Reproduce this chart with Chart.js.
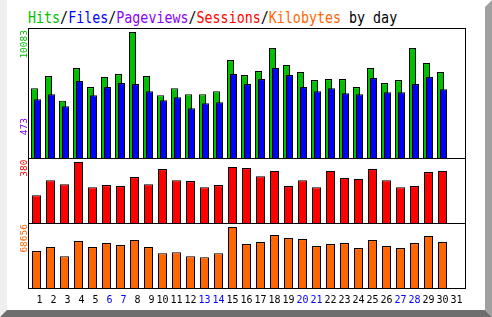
<!DOCTYPE html>
<html>
<head>
<meta charset="UTF-8">
<title>Hits/Files/Pageviews/Sessions/Kilobytes by day</title>
<script src="https://cdn.jsdelivr.net/npm/chart.js@4.4.0/dist/chart.umd.min.js"></script>
<style>
  * { margin: 0; padding: 0; box-sizing: border-box; }
  body { width: 492px; height: 317px; background: #fff; position: relative; overflow: hidden; }

  /* shaded frame round the picture */
  .edge { position: absolute; left: 0; top: 0; width: 492px; height: 317px; }
  .edge.left { background: #efefef; clip-path: polygon(0 0, 7px 0, 7px 310px, 0 317px); }
  .edge.right { background: #a0a0a0; clip-path: polygon(485px 7px, 492px 0, 492px 317px, 485px 310px); }
  .edge.bottom { background: #6e6e6e; clip-path: polygon(7px 310px, 485px 310px, 492px 317px, 0 317px); }

  #chart { position: absolute; left: 0; top: 0; }

  .title {
    position: absolute; left: 28px; top: 11px;
    font: 13.33px/16px 'DejaVu Sans Mono', monospace;
    white-space: pre;
    transform: scaleY(1.15); transform-origin: 0 13px;
  }
  .hits { color: #00c000; }
  .files { color: #0000ff; }
  .pages { color: #8800ff; }
  .sess { color: #ff0000; }
  .kb { color: #ff6600; }
</style>
</head>
<body>
  <div class="edge left"></div>
  <div class="edge right"></div>
  <div class="edge bottom"></div>

  <div class="title"><span class="hits">Hits</span>/<span class="files">Files</span>/<span class="pages">Pageviews</span>/<span class="sess">Sessions</span>/<span class="kb">Kilobytes</span> by day</div>

  <canvas id="chart" width="492" height="317"></canvas>

<script>
  const days = [1, 2, 3, 4, 5, 6, 7, 8, 9, 10, 11, 12, 13, 14, 15, 16,
                17, 18, 19, 20, 21, 22, 23, 24, 25, 26, 27, 28, 29, 30, 31];
  const weekend = [6, 7, 13, 14, 20, 21, 27, 28];

  const hits = [5591, 6554, 4573, 7196, 5672, 6474, 6714, 10083, 6554, 5030,
                5591, 5110, 5110, 5351, 7837, 6634, 6955, 8800, 7436, 6875,
                6233, 6313, 6313, 5672, 7196, 5992, 6233, 8800, 7597, 6875];
  const files = [4709, 5110, 4147, 6153, 5030, 5672, 5992, 5912, 5351, 4629,
                 4869, 3987, 4388, 4468, 6714, 5912, 6313, 7196, 6634, 5672,
                 5351, 5591, 5190, 5110, 6394, 5271, 5271, 5912, 6474, 5511];
  const sessions = [173, 267, 242, 380, 223, 236, 230, 286, 242, 336,
                    267, 261, 223, 236, 349, 342, 292, 324, 230, 267,
                    223, 324, 280, 274, 336, 267, 223, 230, 317, 324];
  const kbytes = [41508, 46032, 35853, 52818, 46032, 50556, 48294, 53949, 46032, 39246,
                  40377, 35853, 34722, 39246, 68656, 49425, 51687, 59604, 56211, 55080,
                  47163, 49425, 50556, 44901, 53949, 47163, 44901, 50556, 58473, 51687];
  const pageviewsMax = 473;

  const GREEN = '#00c000', BLUE = '#0000ff', PURPLE = '#8800ff', RED = '#ff0000', ORANGE = '#ff6600';
  const MONO = "'DejaVu Sans Mono', monospace";

  // x range: one day = 14px, day 1 centred 8.5px right of the frame
  const xMin = 0.393, xMax = 31.607;
  const step = 1 / 14;   // one pixel in day units

  const hidden = {
    ticks: { display: false },
    grid: { display: false, drawTicks: false },
    border: { display: false },
    afterFit: s => { s.width = 0; }
  };

  const barBase = { borderColor: '#000', borderWidth: 1, grouped: false, inflateAmount: 0 };

  // frame lines and the rotated max labels
  const framePlugin = {
    id: 'frame',
    afterDatasetsDraw(chart) {
      const { ctx, chartArea: a, scales } = chart;
      ctx.save();
      ctx.strokeStyle = '#000';
      ctx.lineWidth = 1;
      ctx.strokeRect(a.left + 0.5, a.top + 0.5, a.right - a.left, a.bottom - a.top);
      [scales.ySess.top, scales.yKB.top].forEach(y => {
        ctx.beginPath();
        ctx.moveTo(a.left, Math.round(y) + 0.5);
        ctx.lineTo(a.right + 1, Math.round(y) + 0.5);
        ctx.stroke();
      });

      const put = (text, color, y) => {
        ctx.save();
        ctx.translate(a.left - 1.3, y);
        ctx.rotate(-Math.PI / 2);
        ctx.fillStyle = color;
        ctx.font = '9.5px ' + MONO;
        ctx.textAlign = 'right';
        ctx.textBaseline = 'alphabetic';
        ctx.fillText(text, 0, 0);
        ctx.restore();
      };
      put(String(Math.max(...hits)), GREEN, scales.yHits.top + 2);
      put(String(pageviewsMax), PURPLE, scales.yHits.top + 90);
      put(String(Math.max(...sessions)), RED, scales.ySess.top + 1.5);
      put(String(Math.max(...kbytes)), ORANGE, scales.yKB.top + 1);
      ctx.restore();
    }
  };

  new Chart(document.getElementById('chart'), {
    type: 'bar',
    data: {
      labels: days,
      datasets: [
        { ...barBase, label: 'Hits', data: hits, backgroundColor: GREEN, xAxisID: 'xG', yAxisID: 'yHits', barThickness: 7, order: 2 },
        { ...barBase, label: 'Files', data: files, backgroundColor: BLUE, xAxisID: 'xB', yAxisID: 'yHits', barThickness: 7, order: 1 },
        { ...barBase, label: 'Sessions', data: sessions, backgroundColor: RED, xAxisID: 'x', yAxisID: 'ySess', barThickness: 9 },
        { ...barBase, label: 'Kilobytes', data: kbytes, backgroundColor: ORANGE, xAxisID: 'x', yAxisID: 'yKB', barThickness: 9 }
      ]
    },
    options: {
      responsive: false,
      animation: false,
      events: [],
      layout: { padding: { left: 28, right: 27, top: 28, bottom: 0 } },
      plugins: { legend: { display: false }, tooltip: { enabled: false }, title: { display: false } },
      scales: {
        x: {
          type: 'linear', position: 'bottom', min: xMin, max: xMax, offset: false, bounds: 'data',
          afterBuildTicks: s => { s.ticks = days.map(v => ({ value: v })); },
          afterFit: s => { s.height = 29; },
          grid: { display: false, drawTicks: false },
          border: { display: false },
          ticks: {
            autoSkip: false, maxRotation: 0, minRotation: 0, padding: 6,
            font: { family: MONO, size: 10 },
            color: c => weekend.includes(c.tick.value) ? BLUE : '#000',
            callback: v => String(v).padStart(2, ' ')
          }
        },
        xG: { type: 'linear', display: false, offset: false, bounds: 'data', min: xMin + 2 * step, max: xMax + 2 * step },
        xB: { type: 'linear', display: false, offset: false, bounds: 'data', min: xMin - step, max: xMax - step },
        yKB: { ...hidden, type: 'linear', position: 'left', stack: 'panels', stackWeight: 1, weight: 1, min: 0, max: 73158 },
        ySess: { ...hidden, type: 'linear', position: 'left', stack: 'panels', stackWeight: 1, weight: 2, min: 0, max: 405 },
        yHits: { ...hidden, type: 'linear', position: 'left', stack: 'panels', stackWeight: 2, weight: 3, min: 0, max: 10403 }
      }
    },
    plugins: [framePlugin]
  });
</script>
</body>
</html>
